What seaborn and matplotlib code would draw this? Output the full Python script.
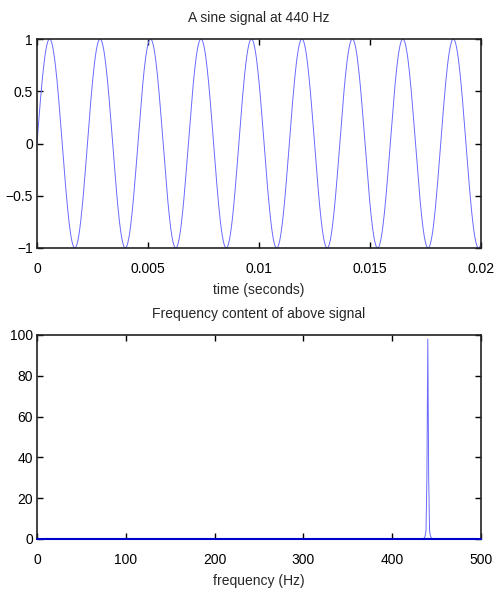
import numpy as np
import pandas as pd
import seaborn as sns
import matplotlib.pyplot as plt
from matplotlib import font_manager

# signal parameters (from the title)
freq_hz = 440
amplitude = 1.0
duration = 0.02
sample_rate = 44100

# spectrum
spec_freq = [0, 434, 436, 437, 438, 439, 440, 441, 442, 443, 444, 446, 500]
spec_mag = [0, 0, 0.5, 1.5, 4, 30, 98, 30, 4, 1.5, 0.5, 0, 0]

time_ticks = [0, 0.005, 0.01, 0.015, 0.02]
time_labels = ["0", "0.005", "0.01", "0.015", "0.02"]
amp_ticks = [-1, -0.5, 0, 0.5, 1]
amp_labels = ["\u22121", "\u22120.5", "0", "0.5", "1"]
freq_ticks = [0, 100, 200, 300, 400, 500]
mag_ticks = [0, 20, 40, 60, 80, 100]

t = np.arange(0, duration + 1 / sample_rate, 1 / sample_rate)
sig = pd.DataFrame({"t": t, "y": amplitude * np.sin(2 * np.pi * freq_hz * t)})
spec = pd.DataFrame({"f": spec_freq, "m": spec_mag})

sns.set_style("ticks")

# the original uses a narrow helvetica-like face; use one if installed
names = {f.name for f in font_manager.fontManager.ttflist}
if "Liberation Sans Narrow" in names:
    plt.rcParams["font.family"] = ["Liberation Sans Narrow", "DejaVu Sans"]
    fsize = 11.5
else:
    plt.rcParams["font.family"] = ["Liberation Sans", "DejaVu Sans"]
    fsize = 10
plt.rcParams["font.size"] = fsize

fig = plt.figure(figsize=(4.99, 5.93), dpi=100)
ax1 = fig.add_axes([0.0741, 0.5818, 0.890, 0.3524])
ax2 = fig.add_axes([0.0741, 0.0911, 0.890, 0.3440])

line_col = "#6a6aff"

sns.lineplot(data=sig, x="t", y="y", ax=ax1, color=line_col, linewidth=0.7)
ax1.set_xlim(0, 0.02)
ax1.set_ylim(-1, 1)
ax1.set_xticks(time_ticks, time_labels)
ax1.set_yticks(amp_ticks, amp_labels)
ax1.set_title("A sine signal at 440 Hz", pad=12, fontsize=fsize)
ax1.set_xlabel("time (seconds)", labelpad=5, fontsize=fsize)
ax1.set_ylabel("")

sns.lineplot(data=spec, x="f", y="m", ax=ax2, color=line_col, linewidth=0.7)
ax2.axhline(0, color="#0000cc", linewidth=1.5, clip_on=False, zorder=5)
ax2.set_xlim(0, 500)
ax2.set_ylim(0, 100)
ax2.set_xticks(freq_ticks)
ax2.set_yticks(mag_ticks)
ax2.set_title("Frequency content of above signal", pad=12, fontsize=fsize)
ax2.set_xlabel("frequency (Hz)", labelpad=5, fontsize=fsize)
ax2.set_ylabel("")

for ax in (ax1, ax2):
    for s in ax.spines.values():
        s.set_visible(True)
        s.set_linewidth(1.2)
        s.set_color("#222222")
    ax.tick_params(direction="in", top=True, right=True, length=4, width=1,
                   colors="black", labelsize=fsize)
    ax.tick_params(axis="x", pad=10)
    ax.tick_params(axis="y", pad=3)

fig.savefig("out.png", dpi=100)
